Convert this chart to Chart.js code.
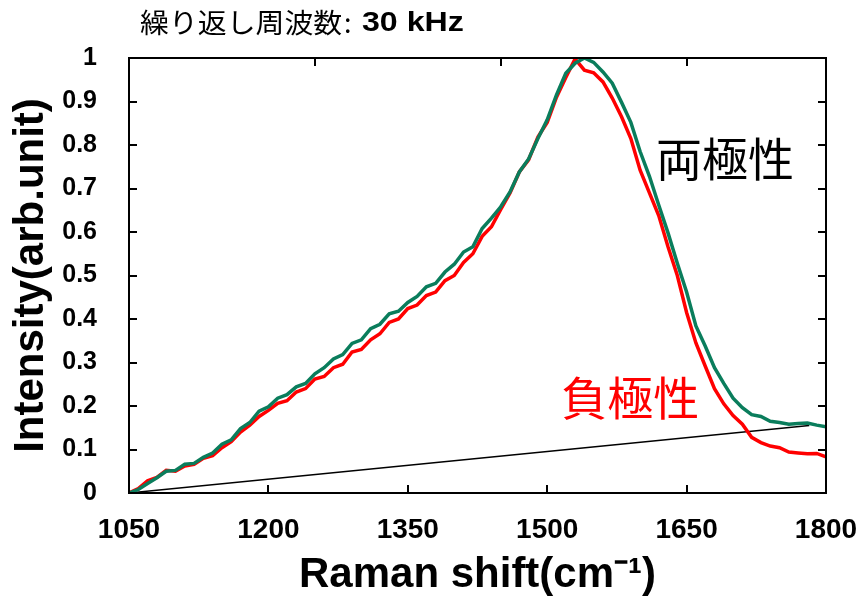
<!DOCTYPE html>
<html>
<head>
<meta charset="utf-8">
<script src="https://cdn.jsdelivr.net/npm/chart.js@4.4.0/dist/chart.umd.min.js"></script>
<style>
  html, body { margin: 0; padding: 0; background: #fff; }
</style>
</head>
<body>
<canvas id="myChart" width="859" height="601"></canvas>
<script>
// Raman shift (cm-1), every 10
const ramanShift = [
  1050, 1060, 1070, 1080, 1090, 1100, 1110, 1120, 1130, 1140,
  1150, 1160, 1170, 1180, 1190, 1200, 1210, 1220, 1230, 1240,
  1250, 1260, 1270, 1280, 1290, 1300, 1310, 1320, 1330, 1340,
  1350, 1360, 1370, 1380, 1390, 1400, 1410, 1420, 1430, 1440,
  1450, 1460, 1470, 1480, 1490, 1500, 1510, 1520, 1530, 1540,
  1550, 1560, 1570, 1580, 1590, 1600, 1610, 1620, 1630, 1640,
  1650, 1660, 1670, 1680, 1690, 1700, 1710, 1720, 1730, 1740,
  1750, 1760, 1770, 1780, 1790, 1800
];
// 両極性 (green)
const bipolar = [
  0.000, 0.008, 0.022, 0.035, 0.050, 0.052, 0.066, 0.068, 0.082, 0.092,
  0.112, 0.122, 0.148, 0.162, 0.188, 0.198, 0.218, 0.226, 0.244, 0.252,
  0.274, 0.288, 0.308, 0.318, 0.344, 0.352, 0.378, 0.388, 0.412, 0.418,
  0.438, 0.452, 0.474, 0.482, 0.508, 0.526, 0.554, 0.566, 0.608, 0.632,
  0.658, 0.692, 0.738, 0.768, 0.815, 0.858, 0.915, 0.965, 0.988, 1.000,
  0.990, 0.968, 0.942, 0.898, 0.852, 0.785, 0.728, 0.662, 0.598, 0.528,
  0.462, 0.384, 0.338, 0.288, 0.252, 0.218, 0.196, 0.180, 0.176, 0.165,
  0.162, 0.158, 0.160, 0.161, 0.156, 0.152
];
// 負極性 (red)
const negative = [
  0.000, 0.010, 0.028, 0.036, 0.052, 0.050, 0.062, 0.066, 0.080, 0.086,
  0.104, 0.118, 0.140, 0.156, 0.176, 0.190, 0.206, 0.212, 0.232, 0.240,
  0.262, 0.268, 0.288, 0.296, 0.324, 0.330, 0.352, 0.366, 0.392, 0.400,
  0.424, 0.432, 0.454, 0.462, 0.488, 0.500, 0.530, 0.550, 0.590, 0.612,
  0.652, 0.690, 0.738, 0.766, 0.818, 0.852, 0.910, 0.955, 0.998, 0.972,
  0.966, 0.945, 0.908, 0.865, 0.815, 0.742, 0.690, 0.638, 0.566, 0.500,
  0.415, 0.345, 0.292, 0.240, 0.205, 0.178, 0.158, 0.128, 0.116, 0.108,
  0.104, 0.094, 0.092, 0.090, 0.091, 0.083
];
// straight baseline
const baselineX = [1050, 1782];
const baselineY = [0.000, 0.155];

// tick marks
const bottomTicks = [1200, 1350, 1500, 1650];
const topTicks = [1250, 1450, 1650];
const sideTicks = [0.1, 0.2, 0.3, 0.4, 0.5, 0.6, 0.7, 0.8, 0.9];

const latin = '"Liberation Sans", Arial, sans-serif';
const cjk = '"Noto Sans CJK JP", sans-serif';

const toPoints = (xs, ys) => xs.map((x, i) => ({ x: x, y: ys[i] }));

// frame, inward ticks, title and labels
const decorations = {
  id: "decorations",
  afterDraw(chart) {
    const ctx = chart.ctx;
    const a = chart.chartArea;
    const xs = chart.scales.x;
    const ys = chart.scales.y;
    ctx.save();
    ctx.strokeStyle = "#000";
    ctx.lineWidth = 2;
    ctx.strokeRect(a.left, a.top, a.right - a.left, a.bottom - a.top);
    ctx.beginPath();
    bottomTicks.forEach((v) => {
      const px = Math.round(xs.getPixelForValue(v));
      ctx.moveTo(px, a.bottom);
      ctx.lineTo(px, a.bottom - 8);
    });
    topTicks.forEach((v) => {
      const px = Math.round(xs.getPixelForValue(v));
      ctx.moveTo(px, a.top);
      ctx.lineTo(px, a.top + 8);
    });
    sideTicks.forEach((v) => {
      const py = Math.round(ys.getPixelForValue(v));
      ctx.moveTo(a.left, py);
      ctx.lineTo(a.left + 8, py);
      ctx.moveTo(a.right, py);
      ctx.lineTo(a.right - 8, py);
    });
    ctx.stroke();

    // title
    ctx.fillStyle = "#000";
    ctx.textBaseline = "middle";
    ctx.font = "27px " + cjk;
    ctx.save();
    ctx.translate(140, 23);
    ctx.scale(1.07, 1);
    ctx.fillText("繰り返し周波数", 0, 0);
    ctx.restore();
    ctx.fillText(":", 344, 23);
    ctx.save();
    ctx.translate(362, 24);
    ctx.scale(1.19, 1);
    ctx.font = "bold 27px " + latin;
    ctx.fillText("30 kHz", 0, 0);
    ctx.restore();

    // series labels
    ctx.font = "46px " + cjk;
    ctx.fillStyle = "#000";
    ctx.fillText("両極性", xs.getPixelForValue(1617), ys.getPixelForValue(0.77));
    ctx.fillStyle = "#ff0000";
    ctx.fillText("負極性", xs.getPixelForValue(1515), ys.getPixelForValue(0.22));
    ctx.restore();
  },
};

var ctx = document.getElementById("myChart").getContext("2d");
var myChart = new Chart(ctx, {
  type: "line",
  data: {
    datasets: [
      {
        label: "両極性",
        data: toPoints(ramanShift, bipolar),
        borderColor: "#0a7d5c",
        borderWidth: 3.5,
      },
      {
        label: "負極性",
        data: toPoints(ramanShift, negative),
        borderColor: "#ff0000",
        borderWidth: 3.5,
      },
      {
        label: "baseline",
        data: toPoints(baselineX, baselineY),
        borderColor: "#000",
        borderWidth: 1.5,
      },
    ],
  },
  options: {
    responsive: false,
    animation: false,
    layout: { padding: { top: 58, right: 33, left: 0, bottom: 0 } },
    elements: { point: { radius: 0 }, line: { tension: 0 } },
    plugins: { legend: { display: false }, tooltip: { enabled: false } },
    scales: {
      x: {
        type: "linear",
        min: 1050,
        max: 1800,
        afterFit: (s) => {
          s.height = 108;
          s.paddingLeft = 0;
          s.paddingRight = 0;
        },
        grid: { display: false },
        border: { display: false },
        ticks: {
          stepSize: 150,
          autoSkip: false,
          maxRotation: 0,
          padding: 12,
          color: "#000",
          font: { family: latin, size: 28, weight: "bold" },
          callback: (v) => String(v),
        },
        title: {
          display: true,
          text: "Raman shift(cm⁻¹)",
          color: "#000",
          font: { family: latin, size: 42, weight: "bold" },
          padding: { top: 0, bottom: 0 },
        },
      },
      y: {
        min: 0,
        max: 1,
        afterFit: (s) => {
          s.width = 129;
          s.paddingTop = 0;
          s.paddingBottom = 0;
        },
        grid: { display: false },
        border: { display: false },
        ticks: {
          stepSize: 0.1,
          padding: 24,
          color: "#000",
          font: { family: latin, size: 25, weight: "bold" },
          callback: (v) => (v === 0 ? "0" : v === 1 ? "1" : v.toFixed(1)),
        },
        title: {
          display: true,
          text: "Intensity(arb.unit)",
          color: "#000",
          font: { family: latin, size: 42, weight: "bold" },
          padding: { top: 6, bottom: 0 },
        },
      },
    },
  },
  plugins: [decorations],
});
</script>
</body>
</html>
